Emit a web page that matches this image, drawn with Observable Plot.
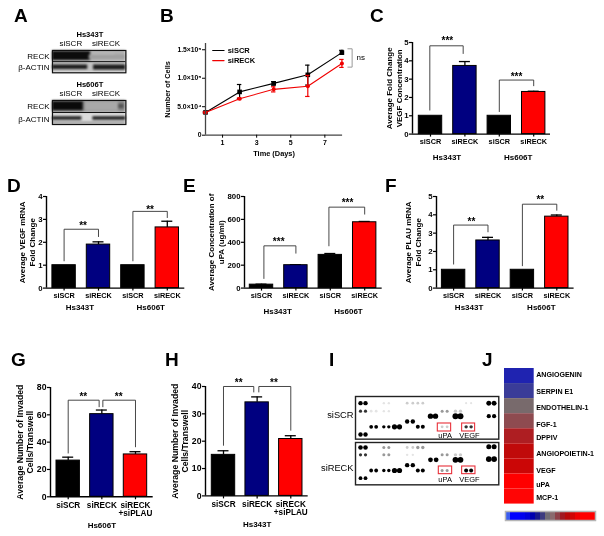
<!DOCTYPE html>
<html><head><meta charset="utf-8">
<style>
html,body{margin:0;padding:0;background:#fff}
#fig{position:relative;width:604px;height:536px;overflow:hidden;font-family:"Liberation Sans",Arial,sans-serif;filter:blur(0.3px)}
#fig svg{position:absolute;overflow:visible;background:transparent}
.letter{position:absolute;font-weight:bold;font-size:19px;line-height:1}
</style>
<script src="https://cdn.jsdelivr.net/npm/d3@7"></script>
<script src="https://cdn.jsdelivr.net/npm/@observablehq/plot@0.6"></script>
</head><body><div id="fig"></div>
<script>
const FONT = '"Liberation Sans",Arial,sans-serif';
const NAVY = "#000080", RED = "#ff0000", BLACK = "#000000";

// Panel letters
const letters = ["A","B","C","D","E","F","G","H","I","J"];

// Panel B
const days = [0,2,4,6,8];
const scrMean = [40000,76000,91000,106000,145000];
const scrHigh = [41000,89000,94000,123000,149000];
const scrLow  = [39000,64000,88000,88000,142000];
const reckMean = [40000,64000,80500,86000,126000];
const reckHigh = [41000,65500,85000,105000,133000];
const reckLow  = [39000,62500,76000,68000,119000];

// Bar panels
const cats4 = ["siSCR","siRECK","siSCR","siRECK"];
const cats3 = ["siSCR","siRECK","siRECK\n+siPLAU"];
const fill4 = [BLACK,NAVY,BLACK,RED];
const fill3 = [BLACK,NAVY,RED];
const cValues = [1,3.72,1,2.3],      cErr = [1,3.96,1,2.34];
const dValues = [1,1.9,1,2.65],      dErr = [1,2.02,1,2.92];
const eValues = [30,200,290,575],    eErr = [34,204,302,582];
const fValues = [1,2.6,1,3.9],       fErr = [1,2.77,1,3.99];
const gValues = [26.5,60.5,31],      gErr = [29,63.5,33];
const hValues = [15,34.2,20.8],      hErr = [16.5,36.2,22];

// Brackets: [x, y] paths in category / value units
const cBrackets = [[[0.98,1.31],[0.98,4.82],[1.95,4.82],[1.95,4.4]],[[3,1.23],[3,2.95],[4,2.95],[4,2.64]]];
const dBrackets = [[[1,1.19],[1,2.57],[2,2.57],[2,2.25]],[[3,1.19],[3,3.35],[4,3.35],[4,3.08]]];
const eBrackets = [[[1.07,84],[1.07,369],[2,369],[2,305]],[[2.96,369],[2.96,707],[4,707],[4,646]]];
const fBrackets = [[[1,1.31],[1,3.44],[2,3.44],[2,3.07]],[[3,1.22],[3,4.58],[4,4.58],[4,4.25]]];
const gBrackets = [[[1,32],[1,70.7],[1.92,70.7],[1.92,65.9]],[[2.03,65.9],[2.03,70.7],[3,70.7],[3,36.6]]];
const hBrackets = [[[1,18.5],[1,40],[1.9,40],[1.9,38]],[[2.05,38],[2.05,40],[3,40],[3,24]]];

// Heat map
const heatNames = ["ANGIOGENIN","SERPIN E1","ENDOTHELIN-1","FGF-1","DPPIV","ANGIOPOIETIN-1","VEGF","uPA","MCP-1"];
const heatColors = ["#1f23b0","#3a3c98","#786a6c","#8e4b50","#ae1e22","#c00a0a","#cb0606","#ff0000","#ff0505"];
const heatLabelRows = [0.44,1.53,2.63,3.7,4.62,5.69,6.77,7.74,8.6];
const barColors = ["#3a5cf0","#0000ff","#0000ff","#0000ee","#0000d8","#0000b0","#18188c","#3c3c80","#706c74","#8a6a6e","#8e4048","#a01820","#b80808","#d00404","#ee0000","#ff0000","#ff0000","#ff0000"];

// Dot array spots: [x, y, r, shade]
const K="#000", D="#333", M="#999", L="#ccc", F="#e4e4e4";
const spotsA = [
 [45,172,2.2,K],[60,172,2.2,K],[185,172,1.4,L],[202,172,1.4,L],[217,172,1.4,L],[232,172,1.4,L],[430,172,2.5,K],[446,172,2.5,K],
 [45,196,1.6,D],[60,196,1.6,D],[77,196,1.4,F],[92,196,1.4,F],[115,172,1.2,F],[130,172,1.2,F],[115,196,1.2,F],[130,196,1.2,F],
 [290,196,1.5,M],[305,196,1.5,M],[330,196,1.7,L],[345,196,1.7,L],
 [255,211,2.7,K],[270,211,2.7,K],[330,211,3,K],[345,211,3,K],[430,211,2.1,K],[446,211,2.1,K],
 [185,227,2.2,K],[202,227,2.2,K],
 [77,243,1.9,K],[92,243,1.9,K],[115,243,1.7,K],[130,243,1.7,K],[147,243,2.6,K],[162,243,2.6,K],[217,243,2,K],[232,243,2,K],
 [290,243,1.4,L],[305,243,1.4,L],[362,243,1.7,D],[377,243,1.7,D],[362,172,1.1,F],[377,172,1.1,F],
 [45,266,2.2,K],[60,266,2.2,K]
];
const spotsB = [
 [45,305,2.3,K],[60,305,2.3,K],[115,305,1.5,M],[130,305,1.5,M],[185,305,1.4,L],[202,305,1.4,L],[217,305,1.7,M],[232,305,1.7,M],[430,303,2.5,K],[446,303,2.5,K],
 [45,327,1.6,D],[60,327,1.6,D],[115,327,1.5,M],[130,327,1.5,M],[185,327,1.2,F],[202,327,1.2,F],[290,327,1.5,M],[305,327,1.5,M],[330,327,1.7,L],[345,327,1.7,L],
 [255,342,2.4,K],[272,342,2.4,K],[330,342,2.9,K],[345,342,2.9,K],[430,340,2.8,K],[446,340,2.8,K],
 [185,358,2.2,K],[202,358,2.2,K],
 [77,374,1.9,K],[92,374,1.9,K],[115,374,1.7,K],[130,374,1.7,K],[147,374,2.6,K],[162,374,2.6,K],[217,374,2,K],[232,374,2,K],
 [290,374,1.5,M],[305,374,1.5,M],[362,374,2,K],[377,374,2,K],
 [45,397,1.9,K],[60,397,1.9,K]
];

// Blots: [x1, x2, y1, y2, fill] in lane / strip units
const blotA = [
 [0,1,0,1,"#b2b2b2"],[0.55,0.85,0.3,0.7,"#c0c0c0"],[0,0.52,0.08,0.9,"#0c0c0c"],[0.5,1,0.4,0.8,"#a0a0a0"],
 [0,1,1,2,"#c2c2c2"],[0,0.48,1.3,1.7,"#1c1c1c"],[0.56,1,1.3,1.75,"#1c1c1c"]
];
const blotB = [
 [0,1,0,1,"#8e8e8e"],[0.45,0.9,0.1,0.9,"#a8a8a8"],[0,0.42,0.1,0.85,"#0a0a0a"],[0.9,0.98,0.3,0.7,"#555"],
 [0,1,1,2,"#dcdcdc"],[0,0.4,1.35,1.65,"#222"],[0.55,1,1.35,1.65,"#222"],[0,1,1.8,2,"#999"]
];

const fig = document.getElementById("fig");
function place(el, left, top){ el.style.left = left+"px"; el.style.top = top+"px"; fig.appendChild(el); return el; }

const letterPos = [[14,6],[160,6],[370,6],[7,176],[183,176],[385,176],[11,350],[165,350],[329,350],[482,350]];
letters.forEach((t,i)=>{ const d=document.createElement("div"); d.className="letter"; d.textContent=t; place(d,letterPos[i][0],letterPos[i][1]); });

function barPanel(p){
  const ml=50, mr=6, mt=16, mb=44;
  const xMin = 1+(p.axisX-p.c1)/p.step, xMax = 1+(p.axisEnd-p.c1)/p.step;
  const half = p.barW/2/p.step, cap = 5.5/p.step;
  const n = p.values.length;
  const rows = p.values.map((v,i)=>({k:i+1,v,e:p.err[i],fill:p.fills[i]}));
  const lines = p.brackets.flatMap((b,i)=>b.map(([x,y])=>({x,y,i})));
  const ks = d3.range(1,n+1);
  const svg = Plot.plot({
    width:p.axisEnd-p.axisX+ml+mr, height:p.y0-p.yTop+mt+mb,
    marginLeft:ml,marginRight:mr,marginTop:mt,marginBottom:mb,
    style:{fontFamily:FONT,fontWeight:"bold",background:"transparent",overflow:"visible"},
    x:{domain:[xMin,xMax]}, y:{domain:[0,p.yMax]},
    marks:[
      Plot.ruleX(rows.filter(d=>d.e>d.v),{x:"k",y1:"v",y2:"e",strokeWidth:1.3}),
      Plot.ruleY(rows.filter(d=>d.e>d.v),{y:"e",x1:d=>d.k-cap,x2:d=>d.k+cap,strokeWidth:1.3}),
      Plot.rectY(rows,{x1:d=>d.k-half,x2:d=>d.k+half,y1:0,y2:"v",fill:"fill",stroke:"#000",strokeWidth:1}),
      Plot.line(lines,{x:"x",y:"y",z:"i",stroke:"#333",strokeWidth:0.9}),
      Plot.text(p.stars,{x:d=>d[0],y:d=>d[1],text:d=>d[2],fontSize:10,dy:3}),
      Plot.ruleY([0],{strokeWidth:1.4}),
      Plot.ruleX([xMin],{y1:0,y2:p.yMax,strokeWidth:1.4}),
      Plot.axisY({ticks:p.yTicks,tickSize:3,tickPadding:1,fontSize:p.tickFont+0.5,strokeWidth:1.2,label:null,tickFormat:d=>String(d)}),
      Plot.axisX({ticks:ks,tickSize:3,tickPadding:p.tickPad,fontSize:p.tickFont,strokeWidth:1.2,label:null,tickFormat:k=>p.cats[k-1],lineAnchor:"top"}),
      Plot.text(p.groups,{x:d=>d[0],y:0,text:d=>d[1],fontSize:p.groupFont,dy:p.groupDy}),
      Plot.text([p.title],{frameAnchor:"left",textAnchor:"middle",rotate:-90,dx:p.titleDx,fontSize:p.titleFont,lineHeight:1.25})
    ]
  });
  place(svg,p.axisX-ml,p.yTop-mt);
}

const common4={cats:cats4,fills:fill4,barW:23.4,step:34.4,tickFont:7.3,tickPad:2,groupFont:8,titleFont:8};
barPanel({...common4,axisX:412,axisEnd:550,c1:430,yTop:41.7,y0:133.3,yMax:5,yTicks:[0,1,2,3,4,5],values:cValues,err:cErr,brackets:cBrackets,
  stars:[[1.49,5.27,"***"],[3.5,3.31,"***"]],groups:[[1.48,"Hs343T"],[3.55,"Hs606T"]],groupDy:23.4,title:"Average Fold Change\nVEGF Concentration",titleDx:-18.5});
barPanel({...common4,axisX:45.7,axisEnd:184,c1:63.3,yTop:195.7,y0:287.3,yMax:4,yTicks:[0,1,2,3,4],values:dValues,err:dErr,brackets:dBrackets,
  stars:[[1.55,2.84,"**"],[3.5,3.56,"**"]],groups:[[1.46,"Hs343T"],[3.52,"Hs606T"]],groupDy:19,title:"Average VEGF mRNA\nFold Change",titleDx:-19.4});
barPanel({...common4,axisX:244,axisEnd:381.7,c1:261,yTop:195.7,y0:287.3,yMax:800,yTicks:[0,200,400,600,800],values:eValues,err:eErr,brackets:eBrackets,
  stars:[[1.5,428,"***"],[3.5,768,"***"]],groups:[[1.47,"Hs343T"],[3.53,"Hs606T"]],groupDy:23,title:"Average Concentration of\nuPA (ug/ml)",titleDx:-28.3});
barPanel({...common4,axisX:435.7,axisEnd:573.3,c1:452.8,yTop:195.7,y0:287.3,yMax:5,yTicks:[0,1,2,3,4,5],values:fValues,err:fErr,brackets:fBrackets,
  stars:[[1.52,3.76,"**"],[3.52,4.98,"**"]],groups:[[1.45,"Hs343T"],[3.55,"Hs606T"]],groupDy:19.5,title:"Average PLAU mRNA\nFold Change",titleDx:-23.7});
const common3={cats:cats3,fills:fill3,barW:23.4,step:33.65,tickFont:8.2,tickPad:2,groupFont:8,titleFont:8.7};
barPanel({...common3,axisX:50,axisEnd:152.7,c1:67.7,yTop:386.7,y0:496,yMax:80,yTicks:[0,20,40,60,80],values:gValues,err:gErr,brackets:gBrackets,
  stars:[[1.45,75.6,"**"],[2.5,75.6,"**"]],groups:[[2,"Hs606T"]],groupDy:28.5,title:"Average Number of Invaded\nCells/Transwell",titleDx:-26});
barPanel({...common3,axisX:205,axisEnd:307.7,c1:223,yTop:386.3,y0:495.7,yMax:40,yTicks:[0,10,20,30,40],values:hValues,err:hErr,brackets:hBrackets,
  stars:[[1.45,42.6,"**"],[2.5,42.6,"**"]],groups:[[2,"Hs343T"]],groupDy:28.5,title:"Average Number of Invaded\nCells/Transwell",titleDx:-26});

// Panel B
(function(){
  const ml=50, mr=30, mt=6, mb=24;
  const scr = days.map((x,i)=>({x,y:scrMean[i],hi:scrHigh[i],lo:scrLow[i]}));
  const reck = days.map((x,i)=>({x,y:reckMean[i],hi:reckHigh[i],lo:reckLow[i]}));
  const cap=0.13;
  const series=(rows,color,symbol,r)=>[
    Plot.line(rows,{x:"x",y:"y",stroke:color,strokeWidth:1.1}),
    Plot.ruleX(rows,{x:"x",y1:"lo",y2:"hi",stroke:color,strokeWidth:1.2}),
    Plot.ruleY(rows,{y:"hi",x1:d=>d.x-cap,x2:d=>d.x+cap,stroke:color,strokeWidth:1.2}),
    Plot.ruleY(rows,{y:"lo",x1:d=>d.x-cap,x2:d=>d.x+cap,stroke:color,strokeWidth:1.2}),
    Plot.dot(rows,{x:"x",y:"y",fill:color,symbol,r})
  ];
  const fmt=d=>d===0?"0":d===50000?"5.0×10⁴":d===100000?"1.0×10⁵":"1.5×10⁵";
  const svg=Plot.plot({
    width:137.1+ml+mr,height:91.7+mt+mb,marginLeft:ml,marginRight:mr,marginTop:mt,marginBottom:mb,
    style:{fontFamily:FONT,fontWeight:"bold",background:"transparent",overflow:"visible"},
    x:{domain:[0,8.04]},y:{domain:[0,161000]},
    marks:[
      ...series(scr,"#000","square",2.6),
      ...series(reck,"#f00000","circle",2),
      Plot.ruleY([0],{strokeWidth:1.3,stroke:"#444"}),
      Plot.ruleX([0],{stroke:"#444",strokeWidth:1.3}),
      Plot.axisY({ticks:[0,50000,100000,150000],tickSize:3,tickPadding:1,fontSize:6.8,label:null,tickFormat:fmt}),
      Plot.axisX({ticks:[1,3,5,7],tickSize:3,tickPadding:2,fontSize:7,label:null,tickFormat:d=>String(d)}),
      Plot.line([[0.42,148700],[1.09,148700]],{stroke:"#000",strokeWidth:1.1}),
      Plot.line([[0.42,131000],[1.09,131000]],{stroke:"#f00000",strokeWidth:1.1}),
      Plot.text(["siSCR"],{x:1.3,y:148700,textAnchor:"start",fontSize:7.5}),
      Plot.text(["siRECK"],{x:1.3,y:131000,textAnchor:"start",fontSize:7.5}),
      Plot.line([[8.35,151700],[8.6,151700],[8.6,119500],[8.35,119500]],{stroke:"#999",strokeWidth:1}),
      Plot.text(["ns"],{x:9.1,y:137000,fontSize:8,fontWeight:"normal"}),
      Plot.text(["Time (Days)"],{frameAnchor:"bottom",dy:21,fontSize:7.4}),
      Plot.text(["Number of Cells"],{frameAnchor:"left",textAnchor:"middle",rotate:-90,dx:-37.7,fontSize:7.4})
    ]
  });
  place(svg,204.6-ml,43-mt);
})();

// Panel A
function blot(rects,title,left,top,w,h,midStrip){
  const rows=rects.map(([x1,x2,y1,y2,fill])=>({x1,x2,y1,y2,fill}));
  const ml=52, mt=22, mr=2, mb=2;
  const svg=Plot.plot({
    width:w+ml+mr,height:h+mt+mb,marginLeft:ml,marginRight:mr,marginTop:mt,marginBottom:mb,
    style:{fontFamily:FONT,background:"transparent",overflow:"visible"},
    x:{domain:[0,1],axis:null},y:{domain:[2,0],axis:null},
    marks:[
      Plot.rect(rows,{x1:"x1",x2:"x2",y1:"y1",y2:"y2",fill:"fill"}),
      Plot.ruleY([midStrip],{stroke:"#111",strokeWidth:1}),
      Plot.frame({stroke:"#111",strokeWidth:1.2}),
      Plot.text([title],{x:0.51,y:0,dy:-16,fontWeight:"bold",fontSize:7.6}),
      Plot.text(["siSCR"],{x:0.25,y:0,dy:-7.5,fontSize:8}),
      Plot.text(["siRECK"],{x:0.73,y:0,dy:-7.5,fontSize:8}),
      Plot.text(["RECK"],{x:0,y:0.5,dx:-3,textAnchor:"end",fontSize:8}),
      Plot.text(["β-ACTIN"],{x:0,y:1.55,dx:-3,textAnchor:"end",fontSize:8})
    ]
  });
  svg.querySelectorAll('g[aria-label="rect"]').forEach(g=>{g.style.filter="blur(0.8px)";});
  place(svg,left-ml,top-mt);
}
blot(blotA,"Hs343T",52.3,50,73.4,22.3,1);
blot(blotB,"Hs606T",52.3,100,73.4,24,1);

// Panel I
function dotArray(spots,label,y1,y2,top,boxes,labelY,nameDy){
  const rows=spots.map(([x,y,r,fill])=>({x,y,r,fill}));
  const ml=40,mr=2,mt=2,mb=2, w=143.3, h=(y2-y1)/3;
  const svg=Plot.plot({
    width:w+ml+mr,height:h+mt+mb,marginLeft:ml,marginRight:mr,marginTop:mt,marginBottom:mb,
    style:{fontFamily:FONT,background:"transparent",overflow:"visible"},
    x:{domain:[30,460],axis:null},y:{domain:[y2,y1],axis:null},r:{type:"identity"},
    marks:[
      Plot.dot(rows,{x:"x",y:"y",r:"r",fill:"fill"}),
      Plot.rect(boxes,{x1:d=>d[0],x2:d=>d[1],y1:d=>d[2],y2:d=>d[3],stroke:"#e8303a",strokeWidth:1.1,fill:"none"}),
      Plot.text(["uPA"],{x:299,y:labelY,fontSize:7.5}),
      Plot.text(["VEGF"],{x:372,y:labelY,fontSize:7.5}),
      Plot.frame({stroke:"#222",strokeWidth:1.4}),
      Plot.text([label],{frameAnchor:"left",dx:-2,dy:nameDy,textAnchor:"end",fontSize:9.3})
    ]
  });
  svg.querySelectorAll('g[aria-label="dot"]').forEach(g=>{g.style.filter="blur(0.35px)";});
  place(svg,355-ml,top-mt);
}
dotArray(spotsA,"siSCR",152,280,395.7,[[277,317,233,257],[350,389,233,257]],268,-3);
dotArray(spotsB,"siRECK",290,417,441.7,[[280,320,362,385],[350,390,362,385]],402,4);

// Panel J
(function(){
  const rows=heatNames.map((n,i)=>({n,i,fill:heatColors[i],ly:heatLabelRows[i]}));
  const ml=2,mr=70,mt=2,mb=2;
  const svg=Plot.plot({
    width:29.7+ml+mr,height:135.6+mt+mb,marginLeft:ml,marginRight:mr,marginTop:mt,marginBottom:mb,
    style:{fontFamily:FONT,background:"transparent",overflow:"visible"},
    x:{domain:[0,1],axis:null},y:{domain:[9,0],axis:null},
    marks:[
      Plot.rect(rows,{x1:0,x2:1,y1:"i",y2:d=>d.i+1,fill:"fill"}),
      Plot.text(rows,{x:1,y:"ly",text:"n",dx:2,textAnchor:"start",fontWeight:"bold",fontSize:7.1})
    ]
  });
  place(svg,504-ml,367.7-mt);
  const bar=barColors.map((fill,i)=>({i,fill}));
  const s2=Plot.plot({
    width:90+4,height:9+4,marginLeft:2,marginRight:2,marginTop:2,marginBottom:2,
    style:{background:"transparent",overflow:"visible"},
    x:{domain:[0,barColors.length],axis:null},y:{domain:[0,1],axis:null},
    marks:[
      Plot.rect(bar,{x1:"i",x2:d=>d.i+1,y1:0,y2:1,fill:"fill"}),
      Plot.frame({stroke:"#b5b5b5",strokeWidth:1.5})
    ]
  });
  place(s2,505-2,510.7-2);
})();
</script></body></html>
